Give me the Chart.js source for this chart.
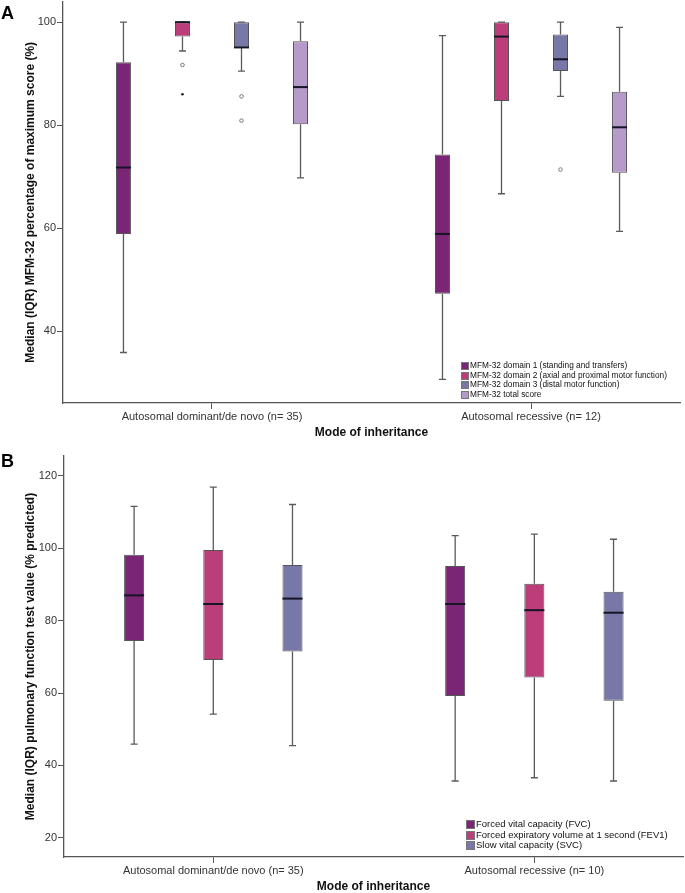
<!DOCTYPE html>
<html>
<head>
<meta charset="utf-8">
<script src="https://cdn.jsdelivr.net/npm/chart.js@4.4.1/dist/chart.umd.min.js"></script>
<style>
  body { margin: 0; width: 685px; height: 893px; background: #fff; overflow: hidden; position: relative; font-family: 'Liberation Sans', Arial, sans-serif; }
  .panel { position: absolute; left: 0; width: 685px; }
  .letter { position: absolute; left: 1px; font-weight: bold; font-size: 18px; color: #000; }
  .legend { position: absolute; color: #111; white-space: nowrap; }
  .legend div { display: flex; align-items: center; }
  .legend span.sw { display: inline-block; border: 1px solid #777; box-sizing: border-box; margin-right: 1px; }
</style>
</head>
<body>
<div class="panel" id="panelA" style="top:0;height:440px"><canvas id="chartA" width="685" height="440"></canvas></div>
<div class="panel" id="panelB" style="top:440px;height:453px"><canvas id="chartB" width="685" height="453"></canvas></div>
<div class="letter" style="top:3px">A</div>
<div class="letter" style="top:451px">B</div>
<div class="legend" id="legendA" style="left:461px;top:361px;font-size:8.3px;line-height:9.7px"></div>
<div class="legend" id="legendB" style="left:466px;top:819px;font-size:9.5px;line-height:10.7px"></div>
<script>
// Panel A: MFM-32 scores
const groupsA = ['Autosomal dominant/de novo (n= 35)', 'Autosomal recessive (n= 12)'];
const seriesA = ['MFM-32 domain 1 (standing and transfers)', 'MFM-32 domain 2 (axial and proximal motor function)', 'MFM-32 domain 3 (distal motor function)', 'MFM-32 total score'];
const coloursA = ['#7b2576', '#bb3d7a', '#7878a8', '#b69ac9'];
// one row per series, [dominant, recessive]
const minA = [[35.9, 30.7], [94.4, 66.7], [90.5, 85.6], [69.8, 59.4]];
const q1A = [[58.9, 47.3], [97.2, 84.7], [95.1, 90.5], [80.2, 70.8]];
const medA = [[71.8, 58.9], [100, 97.2], [95.1, 92.8], [87.4, 79.6]];
const q3A = [[92.2, 74.3], [100, 100], [100, 97.6], [96.3, 86.5]];
const maxA = [[100, 97.4], [100, 100], [100, 100], [100, 99.0]];
const outA = [[[], []], [[91.7], []], [[85.6, 80.9], [71.4]], [[], []]];
const extremeA = [[[], []], [[86.0], []], [[], []], [[], []]];
const ticksA = [40, 60, 80, 100];

// Panel B: pulmonary function tests
const groupsB = ['Autosomal dominant/de novo (n= 35)', 'Autosomal recessive (n= 10)'];
const seriesB = ['Forced vital capacity (FVC)', 'Forced expiratory volume at 1 second (FEV1)', 'Slow vital capacity (SVC)'];
const coloursB = ['#7b2576', '#bb3d7a', '#7878a8'];
const minB = [[45.9, 35.7], [54.2, 36.6], [45.5, 35.7]];
const q1B = [[74.4, 59.2], [69.1, 64.3], [71.5, 57.9]];
const medB = [[87.0, 84.6], [84.6, 82.9], [86.1, 82.2]];
const q3B = [[98.2, 95.1], [99.5, 90.2], [95.4, 88.0]];
const maxB = [[111.6, 103.5], [116.9, 103.9], [112.1, 102.5]];
const ticksB = [20, 40, 60, 80, 100, 120];

const FONT = "'Liberation Sans', Arial, sans-serif";

// draws whiskers, caps, medians and outliers on top of the floating bars
const boxWhiskers = {
  id: 'boxWhiskers',
  afterDatasetsDraw(chart) {
    const ctx = chart.ctx;
    const y = chart.scales.y;
    chart.data.datasets.forEach((ds, i) => {
      const s = ds.stats;
      chart.getDatasetMeta(i).data.forEach((bar, j) => {
        const cx = bar.x, w = bar.width, cap = 7;
        const yMin = y.getPixelForValue(s.min[j]);
        const yMax = y.getPixelForValue(s.max[j]);
        const yQ1 = y.getPixelForValue(s.q1[j]);
        const yQ3 = y.getPixelForValue(s.q3[j]);
        const yMed = y.getPixelForValue(s.med[j]);
        ctx.save();
        ctx.strokeStyle = '#5a5a5a';
        ctx.lineWidth = 1.3;
        ctx.beginPath();
        ctx.moveTo(cx, yQ3); ctx.lineTo(cx, yMax);
        ctx.moveTo(cx - cap / 2, yMax); ctx.lineTo(cx + cap / 2, yMax);
        ctx.moveTo(cx, yQ1); ctx.lineTo(cx, yMin);
        ctx.moveTo(cx - cap / 2, yMin); ctx.lineTo(cx + cap / 2, yMin);
        ctx.stroke();
        ctx.strokeStyle = '#151525';
        ctx.lineWidth = 2;
        ctx.beginPath();
        ctx.moveTo(cx - w / 2, yMed); ctx.lineTo(cx + w / 2, yMed);
        ctx.stroke();
        ctx.lineWidth = 1;
        ctx.strokeStyle = '#777';
        (s.out ? s.out[j] : []).forEach(v => {
          ctx.beginPath();
          ctx.arc(cx, y.getPixelForValue(v), 1.8, 0, Math.PI * 2);
          ctx.stroke();
        });
        ctx.fillStyle = '#222';
        (s.extreme ? s.extreme[j] : []).forEach(v => {
          ctx.beginPath();
          ctx.arc(cx, y.getPixelForValue(v), 1.3, 0, Math.PI * 2);
          ctx.fill();
        });
        ctx.restore();
      });
    });
  }
};

function boxChart(id, groups, series, colours, stats, o) {
  const datasets = series.map((name, i) => ({
    label: name,
    data: groups.map((g, j) => ({ x: j, y: [stats.q1[i][j], stats.q3[i][j]] })),
    backgroundColor: colours[i],
    borderColor: '#555',
    borderWidth: 1,
    borderSkipped: false,
    categoryPercentage: o.catPct,
    barPercentage: o.barPct,
    stats: {
      min: stats.min[i], q1: stats.q1[i], med: stats.med[i], q3: stats.q3[i], max: stats.max[i],
      out: stats.out ? stats.out[i] : null, extreme: stats.extreme ? stats.extreme[i] : null
    }
  }));

  return new Chart(document.getElementById(id), {
    type: 'bar',
    data: { datasets },
    plugins: [boxWhiskers],
    options: {
      responsive: false,
      animation: false,
      layout: { padding: o.padding },
      plugins: { legend: { display: false }, tooltip: { enabled: false } },
      scales: {
        x: {
          type: 'linear',
          min: o.xMin,
          max: o.xMax,
          offset: false,
          afterBuildTicks: sc => { sc.ticks = groups.map((g, j) => ({ value: j })); },
          afterFit: sc => { sc.height = o.xHeight; },
          grid: { offset: false, drawOnChartArea: false, drawTicks: true, tickLength: 6, color: '#555' },
          border: { display: true, color: '#555', width: 1.3 },
          ticks: {
            autoSkip: false, maxRotation: 0, padding: 1.5, color: '#333',
            font: { family: FONT, size: 11 },
            callback: v => groups[v]
          },
          title: {
            display: true, text: 'Mode of inheritance', color: '#111',
            font: { family: FONT, size: 12, weight: 'bold', lineHeight: 1 },
            padding: { top: 0, bottom: o.xTitlePad }
          }
        },
        y: {
          min: o.yMin,
          max: o.yMax,
          afterBuildTicks: sc => { sc.ticks = o.ticks.map(v => ({ value: v })); },
          afterFit: sc => { sc.width = o.yWidth; },
          grid: { drawOnChartArea: false, drawTicks: true, tickLength: 6, color: '#555' },
          border: { display: true, color: '#555', width: 1.3 },
          ticks: { padding: 1, color: '#333', font: { family: FONT, size: 11, lineHeight: 0.1 } },
          title: {
            display: true, text: o.yTitle, color: '#111',
            font: { family: FONT, size: 12, weight: 'bold', lineHeight: 1.2 },
            padding: { top: 23, bottom: 0 }
          }
        }
      }
    }
  });
}

function buildLegend(id, series, colours, sw) {
  const box = document.getElementById(id);
  series.forEach((name, i) => {
    const row = document.createElement('div');
    const swatch = document.createElement('span');
    swatch.className = 'sw';
    swatch.style.width = sw + 'px';
    swatch.style.height = sw + 'px';
    swatch.style.background = colours[i];
    row.appendChild(swatch);
    row.appendChild(document.createTextNode(name));
    box.appendChild(row);
  });
}

boxChart('chartA', groupsA, seriesA, coloursA,
  { min: minA, q1: q1A, med: medA, q3: q3A, max: maxA, out: outA, extreme: extremeA },
  {
    catPct: 0.74, barPct: 0.254, xMin: -0.467, xMax: 1.467, xHeight: 37, xTitlePad: 1,
    yMin: 26.1, yMax: 104, ticks: ticksA, yWidth: 63,
    padding: { top: 0, right: 5, left: 0, bottom: 0 },
    yTitle: 'Median (IQR) MFM-32 percentage of maximum score (%)'
  });

boxChart('chartB', groupsB, seriesB, coloursB,
  { min: minB, q1: q1B, med: medB, q3: q3B, max: maxB },
  {
    catPct: 0.74, barPct: 0.253, xMin: -0.465, xMax: 1.463, xHeight: 36, xTitlePad: 0,
    yMin: 14.7, yMax: 125.5, ticks: ticksB, yWidth: 64,
    padding: { top: 16, right: 2, left: 0, bottom: 0 },
    yTitle: 'Median (IQR) pulmonary function test value (% predicted)'
  });

buildLegend('legendA', seriesA, coloursA, 8);
buildLegend('legendB', seriesB, coloursB, 9);
</script>
</body>
</html>
